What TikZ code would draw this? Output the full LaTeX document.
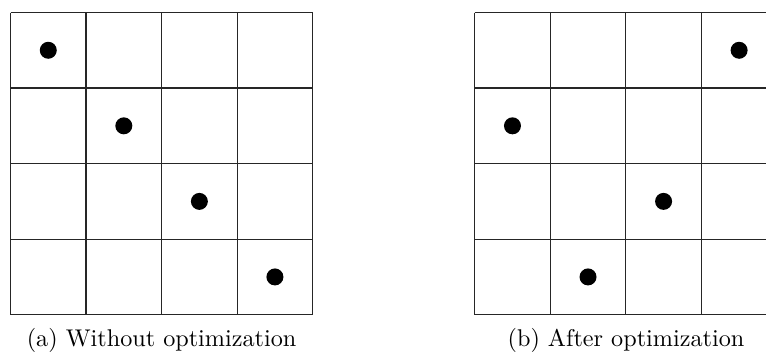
\documentclass[tikz,border=0pt]{standalone}
\begin{document}
\begin{tikzpicture}[x=1pt,y=-1pt,
  gridline/.style={line width=1.2pt, draw=black!85},
  dot/.style={circle, fill=black, inner sep=0pt, minimum size=17pt},
  caption/.style={anchor=base, inner sep=0pt}]
\useasboundingbox (0,0) rectangle (766,354);
\clip (0,0) rectangle (766,354);
\def\cs{75.55}
% left grid
\foreach \i in {0,...,4}{
  \draw[gridline] ({10.5+\i*\cs},12.5) -- ({10.5+\i*\cs},{12.5+4*\cs});
  \draw[gridline] (10.5,{12.5+\i*\cs}) -- ({10.5+4*\cs},{12.5+\i*\cs});
}
% right grid
\foreach \i in {0,...,4}{
  \draw[gridline] ({474.7+\i*\cs},12.5) -- ({474.7+\i*\cs},{12.5+4*\cs});
  \draw[gridline] (474.7,{12.5+\i*\cs}) -- ({474.7+4*\cs},{12.5+\i*\cs});
}
% left dots: (col,row)
\foreach \c/\r [count=\k] in {0/0,1/1,2/2,3/3}
  \node[dot] (a\k) at ({10.5+(\c+0.5)*\cs},{12.5+(\r+0.5)*\cs}) {};
% right dots
\foreach \c/\r [count=\k] in {3/0,0/1,2/2,1/3}
  \node[dot] (b\k) at ({474.7+(\c+0.5)*\cs},{12.5+(\r+0.5)*\cs}) {};
\node[caption] (capa) at (161.6,346.5) {\scalebox{2.42}{(a) Without optimization}};
\node[caption] (capb) at (626,346.5) {\scalebox{2.42}{(b) After optimization}};
\end{tikzpicture}
\end{document}
